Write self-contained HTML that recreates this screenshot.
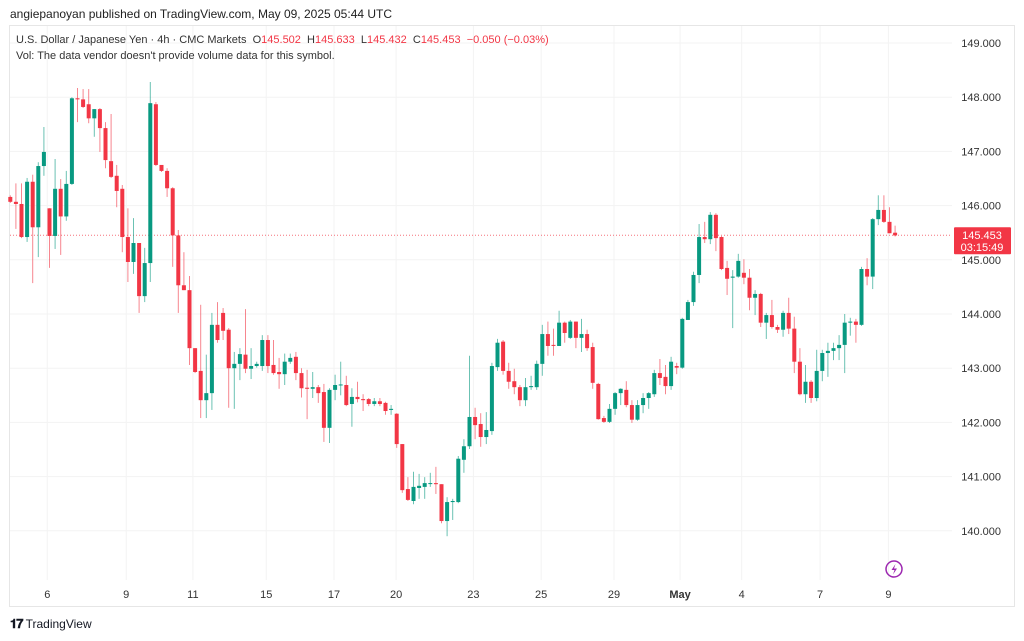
<!DOCTYPE html>
<html><head><meta charset="utf-8"><style>
body{margin:0;width:1024px;height:641px;background:#fff;font-family:"Liberation Sans",sans-serif;overflow:hidden;position:relative}
.t{position:absolute;white-space:nowrap}
</style></head><body>
<div class="t" style="left:10px;top:7px;font-size:12px;color:#222">angiepanoyan published on TradingView.com, May 09, 2025 05:44 UTC</div>
<svg id="c" width="1024" height="641" style="position:absolute;left:0;top:0"></svg>
<div class="t" style="left:16px;top:34px;font-size:11px;color:#333">U.S. Dollar / Japanese Yen · 4h · CMC Markets&nbsp; O<span style="color:#f23645">145.502</span>&nbsp; H<span style="color:#f23645">145.633</span>&nbsp; L<span style="color:#f23645">145.432</span>&nbsp; C<span style="color:#f23645">145.453</span>&nbsp; <span style="color:#f23645">−0.050 (−0.03%)</span></div>
<div class="t" style="left:16px;top:50px;font-size:11px;color:#333">Vol: The data vendor doesn't provide volume data for this symbol.</div>
<div class="t" style="left:10px;top:616px;font-size:12px;color:#131722"><b style="font-size:13px;letter-spacing:-1px">𝟏𝟕</b> TradingView</div>
<script>
const opens=[146.16,146.07,146.03,145.42,146.44,145.60,146.73,145.95,145.44,146.31,145.80,146.40,147.98,147.96,147.87,147.61,147.78,147.43,146.82,146.55,146.31,145.42,144.96,145.31,144.33,144.94,147.87,146.75,146.64,146.32,145.45,144.53,144.44,143.37,142.95,142.41,142.54,143.80,144.02,143.71,143.00,143.08,143.25,142.99,143.04,143.04,143.52,143.06,142.93,142.89,143.12,143.21,142.91,142.64,142.62,142.65,142.56,141.90,142.60,142.69,142.69,142.34,142.47,142.43,142.43,142.34,142.39,142.36,142.23,142.16,141.60,140.77,140.55,140.79,140.81,140.87,140.88,140.86,140.18,140.53,140.53,141.31,141.56,142.10,141.97,141.73,141.84,143.02,143.49,142.95,142.76,142.65,142.41,142.65,142.65,143.08,143.63,143.43,143.41,143.84,143.56,143.86,143.56,143.63,143.39,142.71,142.08,142.01,142.25,142.54,142.60,142.32,142.05,142.32,142.45,142.52,142.91,142.84,142.67,143.04,143.01,143.89,144.22,144.72,145.42,145.38,145.83,145.42,144.85,144.67,144.69,144.76,144.67,144.30,144.37,143.84,143.98,143.76,143.71,144.02,143.73,143.12,142.52,142.75,142.45,142.95,143.28,143.32,143.37,143.43,143.84,143.86,143.80,144.83,144.69,145.75,145.92,145.70,145.50];
const highs=[146.19,146.41,146.41,146.51,146.57,146.80,147.45,145.95,146.86,146.49,146.64,148.00,148.17,148.15,148.15,147.78,147.80,147.54,147.69,146.75,146.38,145.95,145.77,145.31,145.22,148.28,147.91,146.75,146.69,146.34,145.55,145.14,144.70,143.37,144.17,143.25,144.02,144.22,144.11,143.74,143.30,143.37,144.09,143.37,143.12,143.61,143.61,143.52,143.19,143.27,143.27,143.30,143.00,142.97,142.93,142.69,142.71,142.63,142.88,143.12,142.86,142.63,142.75,142.52,142.45,142.45,142.45,142.38,142.32,142.17,141.60,140.99,141.09,141.05,140.99,141.07,141.18,140.86,140.62,140.59,141.38,141.69,143.23,142.27,142.17,142.19,143.10,143.54,143.52,143.10,142.99,142.69,142.82,142.86,143.14,143.80,143.86,143.73,144.06,143.86,143.89,143.86,143.91,143.71,143.47,142.73,142.12,142.34,142.56,142.63,142.76,142.41,142.41,142.54,142.56,142.97,143.17,143.06,143.21,143.10,143.93,144.26,144.78,145.66,145.70,145.88,145.86,145.44,144.98,144.81,145.11,145.01,144.83,144.44,144.39,144.02,144.26,143.80,144.06,144.30,143.95,143.37,143.06,142.78,143.34,143.34,143.47,143.47,143.61,144.00,143.93,143.91,144.87,145.03,145.77,146.19,146.19,145.97,145.63];
const lows=[146.05,145.57,145.40,145.33,144.57,145.05,146.55,144.85,145.20,145.09,145.72,146.38,147.54,147.80,147.52,147.27,146.99,146.69,146.51,145.97,145.14,144.59,144.74,144.02,144.22,144.59,146.73,146.62,146.16,144.87,144.02,144.44,143.06,142.91,142.08,142.08,142.23,143.47,143.52,142.27,142.25,142.78,142.91,142.80,143.01,142.95,142.91,142.88,142.62,142.69,143.08,142.78,142.46,142.06,142.45,142.36,141.64,141.62,142.41,142.50,142.30,141.92,142.37,142.21,142.30,142.30,142.30,142.14,142.14,141.53,140.70,140.55,140.49,140.59,140.59,140.81,140.68,140.14,139.90,140.20,140.51,141.07,141.51,141.69,141.55,141.60,141.77,142.95,142.88,142.62,142.52,142.30,142.30,142.60,142.60,142.86,143.23,143.23,143.41,143.47,143.54,143.37,143.30,143.32,142.62,142.05,141.99,141.99,142.14,142.32,142.28,141.99,142.03,142.17,142.25,142.47,142.69,142.52,142.60,142.89,142.99,143.89,144.15,144.57,145.31,145.29,145.16,144.81,144.35,143.74,144.67,144.55,144.07,143.98,143.76,143.54,143.73,143.65,143.58,143.63,142.91,142.50,142.36,142.36,142.39,142.76,142.84,143.15,143.15,142.91,143.60,143.47,143.78,144.53,144.46,145.64,145.68,145.49,145.43];
const closes=[146.07,146.03,145.42,146.44,145.60,146.73,146.99,145.44,146.31,145.80,146.40,147.98,147.96,147.82,147.61,147.78,147.43,146.84,146.53,146.27,145.42,144.96,145.31,144.33,144.94,147.89,146.75,146.64,146.32,145.45,144.53,144.44,143.37,142.93,142.41,142.54,143.80,143.52,143.69,143.00,143.08,143.26,142.99,143.04,143.08,143.52,143.04,142.91,142.89,143.12,143.19,142.91,142.63,142.62,142.65,142.54,141.90,142.60,142.69,142.70,142.32,142.47,142.43,142.41,142.34,142.39,142.34,142.21,142.25,141.60,140.75,140.57,140.81,140.83,140.88,140.88,140.86,140.18,140.53,140.55,141.33,141.56,142.10,141.95,141.73,141.86,143.04,143.47,142.95,142.75,142.65,142.41,142.65,142.67,143.08,143.63,143.41,143.42,143.84,143.65,143.86,143.56,143.63,143.37,142.73,142.06,142.01,142.25,142.54,142.62,142.32,142.05,142.32,142.45,142.54,142.91,142.82,142.67,143.12,143.01,143.91,144.22,144.72,145.42,145.38,145.83,145.40,144.83,144.65,144.69,144.98,144.67,144.30,144.37,143.84,143.98,143.76,143.71,144.02,143.73,143.12,142.52,142.75,142.45,142.95,143.28,143.32,143.37,143.43,143.84,143.86,143.80,144.83,144.69,145.75,145.92,145.70,145.49,145.45];
const priceTicks=[149,148,147,146,145,144,143,142,141,140];
const dateLabels=["6","9","11","15","17","20","23","25","29","May","4","7","9"];
const dateIdx=[6.6,20.7,32.6,45.7,57.8,68.9,82.7,94.8,107.8,119.6,130.6,144.6,156.8];
const lastPrice=145.453;

const svg=document.getElementById('c');const NS='http://www.w3.org/2000/svg';
const PL=10,PR=952,PT=26,PB=580;
const y=p=>43+(149-p)*54.2;
const x=i=>10.3+i*5.6;
function mk(t,a,parent){const e=document.createElementNS(NS,t);for(const k in a)e.setAttribute(k,a[k]);(parent||svg).appendChild(e);return e;}
const frame=mk('rect',{x:9.5,y:25.5,width:1005,height:581,fill:'none',stroke:'#e6e6e6'});


priceTicks.forEach(p=>{
 const g=mk('line',{x1:PL,x2:PR,y1:y(p),y2:y(p),stroke:'#f3f3f3'});
 
 
 const t=mk('text',{x:1001,y:y(p)+4,'text-anchor':'end','font-size':11,fill:'#333','font-family':'Liberation Sans, sans-serif'});
 t.textContent=p.toFixed(3);
 
 
});
dateLabels.forEach((d,k)=>{
 const xx=x(dateIdx[k]);
 const g=mk('line',{x1:xx,x2:xx,y1:PT,y2:PB,stroke:'#f3f3f3'});
 
 
 const t=mk('text',{x:xx,y:598,'text-anchor':'middle','font-size':11,fill:'#333','font-weight':d==='May'?'bold':'normal','font-family':'Liberation Sans, sans-serif'});
 t.textContent=d;
 
 
});
const pl=mk('line',{x1:PL,x2:PR,y1:y(lastPrice),y2:y(lastPrice),stroke:'#f23645','stroke-dasharray':'1 2','stroke-opacity':0.7});


for(let i=0;i<opens.length;i++){
 const up=closes[i]>=opens[i];const col=up?'#089981':'#f23645';
 const cx=x(i);
 const w=mk('line',{x1:cx,x2:cx,y1:y(highs[i]),y2:y(lows[i]),stroke:col,'stroke-opacity':0.6,'stroke-width':1});
 
 
 const top=y(Math.max(opens[i],closes[i])),bot=y(Math.min(opens[i],closes[i]));
 const b=mk('rect',{x:cx-2,y:top,width:4,height:Math.max(1,bot-top),fill:col});
 
 
}
const lb=mk('rect',{x:954,y:y(lastPrice)-8,width:57,height:27,fill:'#f23645',rx:1});


const l1=mk('text',{x:982,y:y(lastPrice)+4,'text-anchor':'middle','font-size':11,fill:'#fff','font-family':'Liberation Sans, sans-serif'});
l1.textContent=lastPrice.toFixed(3);


const l2=mk('text',{x:982,y:y(lastPrice)+16,'text-anchor':'middle','font-size':11,fill:'#fff','font-family':'Liberation Sans, sans-serif'});
l2.textContent='03:15:49';


const ic=mk('circle',{cx:894,cy:569,r:8,fill:'none',stroke:'#9c27b0','stroke-width':1.5});


const bolt=mk('path',{d:'M895.5 564 L891.5 570 L894.5 570 L893 574.5 L897 568.5 L894 568.5 Z',fill:'#9c27b0'});


</script>
</body></html>
